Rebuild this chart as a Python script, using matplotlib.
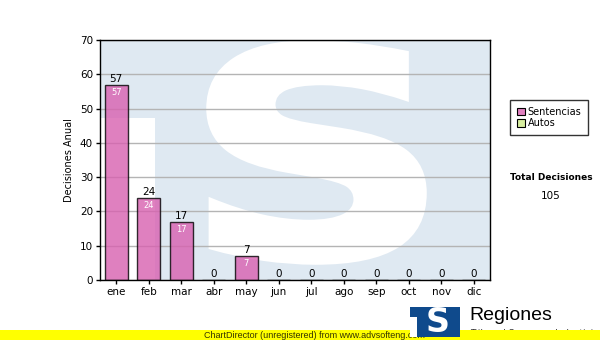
import matplotlib
matplotlib.use("Agg")
import matplotlib.pyplot as plt
from matplotlib.patches import Rectangle, Patch, PathPatch
from matplotlib.textpath import TextPath
from matplotlib.font_manager import FontProperties
from matplotlib.transforms import Affine2D

# data
months = ["ene", "feb", "mar", "abr", "may", "jun", "jul", "ago", "sep", "oct", "nov", "dic"]
sentencias = [57, 24, 17, 0, 7, 0, 0, 0, 0, 0, 0, 0]
series_names = ["Sentencias", "Autos"]
total_label = "Total Decisiones"
total_value = 105

W, H = 600, 340
plt.rcParams["font.family"] = ["DejaVu Sans"]
fig = plt.figure(figsize=(6, 3.4), dpi=100)

ax = fig.add_axes([100 / W, 60 / H, 390 / W, 240 / H])
ax.set_facecolor("#dfe9f2")

# watermark logo (white T and S on light blue), S stretched into its box
ax.add_patch(Rectangle((0, 0), 55 / 390, 162 / 240, transform=ax.transAxes,
                       facecolor="white", edgecolor="none", zorder=0.1))
s_path = TextPath((0, 0), "S", size=1, prop=FontProperties(family="DejaVu Sans", weight="bold"))
ext = s_path.get_extents()
x0, x1 = (209 - 100) / 390, (424 - 100) / 390
y0, y1 = (280 - 262) / 240, (280 - 43) / 240
tr = (Affine2D().translate(-ext.x0, -ext.y0)
      .scale((x1 - x0) / ext.width, (y1 - y0) / ext.height)
      .translate(x0, y0))
ax.add_patch(PathPatch(tr.transform_path(s_path), transform=ax.transAxes,
                       facecolor="white", edgecolor="white", linewidth=4, zorder=0.2))

x = list(range(len(months)))
bars = ax.bar(x, sentencias, width=0.7, color="#d860b0", alpha=0.8,
              edgecolor="black", linewidth=1.0, zorder=2)
for b in bars:
    b.set_edgecolor((0, 0, 0, 1))

for xi, v in zip(x, sentencias):
    ax.annotate(str(v), (xi, v), xytext=(0, 0.5), textcoords="offset points",
                ha="center", va="bottom", fontsize=7.5, color="black", zorder=3)
    if v > 0:
        ax.annotate(str(v), (xi, v), xytext=(0, -2.5), textcoords="offset points",
                    ha="center", va="top", fontsize=6, color="white", zorder=3)

ax.set_xlim(-0.5, 11.5)
ax.set_ylim(0, 70)
ax.set_yticks(range(0, 71, 10))
ax.set_xticks(x)
ax.set_xticklabels(months)
ax.yaxis.grid(True, color="#b4b4b4", linewidth=1.0)
ax.set_axisbelow(True)
ax.tick_params(axis="both", direction="out", length=3, width=1, labelsize=7.5, pad=2)
for s in ax.spines.values():
    s.set_color("black")
    s.set_linewidth(1.0)
ax.set_ylabel("Decisiones Anual", fontsize=7, labelpad=4)

# legend
handles = [Patch(facecolor="#e080c0", edgecolor="black", linewidth=0.8),
           Patch(facecolor="#d8efa0", edgecolor="black", linewidth=0.8)]
leg = fig.legend(handles, series_names, loc="upper left",
                 bbox_to_anchor=(510 / W, 1 - 100 / H), fontsize=7,
                 frameon=True, fancybox=False, handlelength=0.8, handleheight=0.8,
                 handletextpad=0.3, borderpad=0.7, labelspacing=0.15, borderaxespad=0)
leg.get_frame().set_edgecolor("black")
leg.get_frame().set_linewidth(1.0)

fig.text(551 / W, 1 - 178 / H, total_label, fontsize=6.5, fontweight="bold",
         ha="center", va="center")
fig.text(551 / W, 1 - 196 / H, str(total_value), fontsize=7.5, ha="center", va="center")

# bottom-right logo and subtitle, then the yellow strip
fig.text(470 / W, 1 - 334 / H, "Tribunal Supremo de Justicia", fontsize=6.5,
         ha="left", va="center", color="#333333", zorder=1)
fig.patches.append(Rectangle((0, 0), 1, 10 / H, transform=fig.transFigure,
                             facecolor="#ffff00", edgecolor="none", zorder=2))
fig.text(314 / W, 5 / H, "ChartDirector (unregistered) from www.advsofteng.com",
         fontsize=6.5, family="Liberation Sans", ha="center", va="center",
         color="#333300", zorder=3)
fig.patches.append(Rectangle((410 / W, 3 / H), 50 / W, 30 / H, transform=fig.transFigure,
                             facecolor="#0f4a8c", edgecolor="none", zorder=4))
fig.patches.append(Rectangle((410 / W, 3 / H), 7 / W, 20 / H, transform=fig.transFigure,
                             facecolor="white", edgecolor="none", zorder=5))
fig.text(438 / W, 17 / H, "S", fontsize=24, fontweight="heavy", color="white",
         ha="center", va="center", zorder=6)
fig.text(469 / W, 1 - 316 / H, "Regiones", fontsize=14, family="Liberation Sans",
         ha="left", va="center", color="black", zorder=4)

fig.savefig("out.png", dpi=100)
